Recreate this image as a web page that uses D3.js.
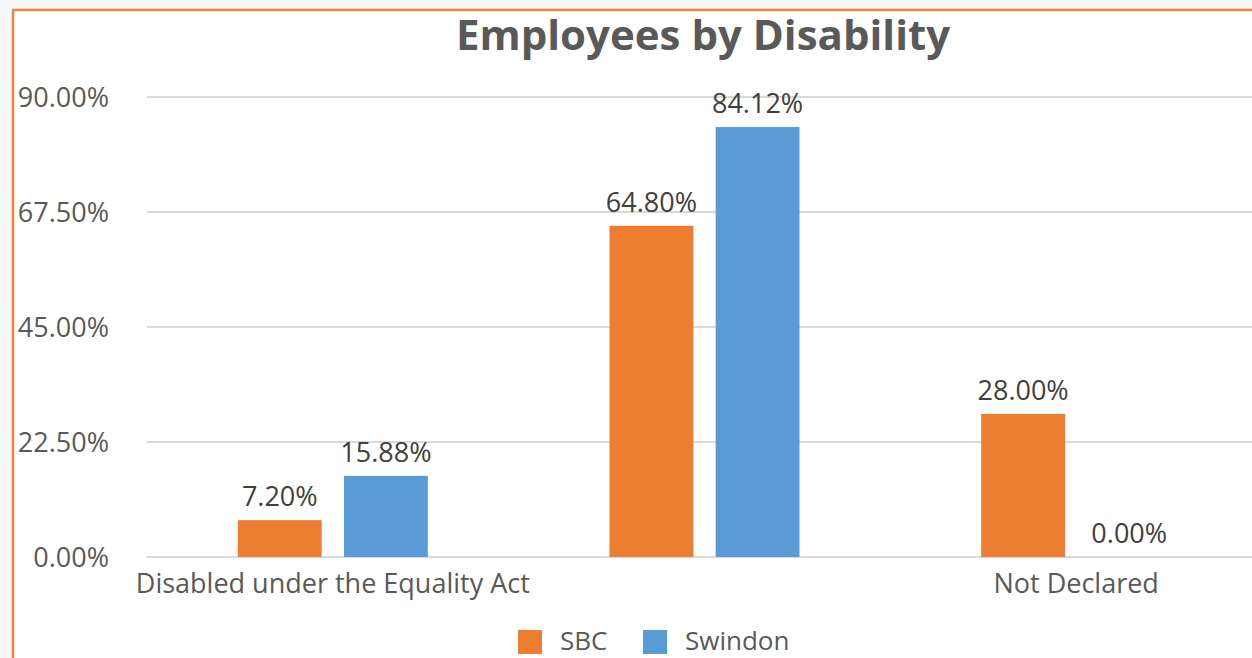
<!DOCTYPE html>
<html>
<head>
<meta charset="utf-8">
<script src="https://cdn.jsdelivr.net/npm/d3@7"></script>
<style>
  body { margin: 0; background: #f7f9fb; }
  text { font-family: "Open Sans", "Noto Sans", sans-serif; }
</style>
</head>
<body>
<div id="chart"></div>
<script>
var categories = ["Disabled under the Equality Act", "", "Not Declared"];
var seriesNames = ["SBC", "Swindon"];
var sbcValues = [7.20, 64.80, 28.00];
var swindonValues = [15.88, 84.12, 0.00];
var yTicks = [0, 22.5, 45, 67.5, 90];

var colors = { SBC: "#ED7D31", Swindon: "#5B9BD5" };

var W = 1252, H = 658;
var margin = { top: 97, right: -10, bottom: 101, left: 147 },
    width = W - margin.left - margin.right,
    height = H - margin.top - margin.bottom;

var svg = d3.select("#chart")
    .append("svg")
    .attr("width", W)
    .attr("height", H);

// white panel with orange frame (only top and left edges are visible)
svg.append("rect")
    .attr("x", 13).attr("y", 10)
    .attr("width", W).attr("height", H)
    .attr("fill", "#ffffff")
    .attr("stroke", "#F28537")
    .attr("stroke-width", 2.5);

var g = svg.append("g")
    .attr("transform", "translate(" + margin.left + "," + margin.top + ")");

var data = categories.map(function (c, i) {
    return { cat: c, values: [
        { key: "SBC", value: sbcValues[i] },
        { key: "Swindon", value: swindonValues[i] }
    ] };
});

var x0 = d3.scaleBand()
    .domain(d3.range(categories.length))
    .range([0, width]);

var x1 = d3.scaleBand()
    .domain(seriesNames)
    .range([x0.bandwidth() / 2 - 95, x0.bandwidth() / 2 + 95])
    .paddingInner(0.21);

var y = d3.scaleLinear()
    .domain([0, 90])
    .range([height, 0]);

// gridlines
g.append("g")
    .selectAll("line")
    .data(yTicks)
    .enter().append("line")
    .attr("x1", 0).attr("x2", width)
    .attr("y1", function (d) { return y(d); })
    .attr("y2", function (d) { return y(d); })
    .attr("stroke", "#d9d9d9")
    .attr("stroke-width", 2);

// y axis labels
var yAxis = g.append("g")
    .attr("transform", "translate(-35,0)")
    .call(d3.axisLeft(y).tickValues(yTicks).tickSize(0)
        .tickFormat(function (d) { return d.toFixed(2) + "%"; }));
yAxis.select(".domain").remove();
yAxis.selectAll("text")
    .attr("fill", "#595959")
    .style("font-size", "27px")
    .attr("dy", "0.36em");

// x axis labels
var xAxis = g.append("g")
    .attr("transform", "translate(0," + height + ")")
    .call(d3.axisBottom(x0).tickSize(0)
        .tickFormat(function (i) { return categories[i]; }));
xAxis.select(".domain").remove();
xAxis.selectAll("text")
    .attr("fill", "#595959")
    .style("font-size", "27px")
    .attr("y", 36)
    .attr("dy", 0);

// bars
var groups = g.selectAll(".cat")
    .data(data)
    .enter().append("g")
    .attr("transform", function (d, i) { return "translate(" + x0(i) + ",0)"; });

groups.selectAll("rect")
    .data(function (d) { return d.values; })
    .enter().append("rect")
    .attr("x", function (d) { return x1(d.key); })
    .attr("y", function (d) { return y(d.value); })
    .attr("width", x1.bandwidth())
    .attr("height", function (d) { return height - y(d.value); })
    .attr("fill", function (d) { return colors[d.key]; });

groups.selectAll(".lbl")
    .data(function (d) { return d.values; })
    .enter().append("text")
    .attr("class", "lbl")
    .attr("x", function (d) { return x1(d.key) + x1.bandwidth() / 2; })
    .attr("y", function (d) { return y(d.value) - 14; })
    .attr("text-anchor", "middle")
    .attr("fill", "#404040")
    .style("font-size", "27px")
    .text(function (d) { return d.value.toFixed(2) + "%"; });

// title
svg.append("text")
    .attr("x", 703)
    .attr("y", 50)
    .attr("text-anchor", "middle")
    .attr("fill", "#595959")
    .attr("font-weight", "bold")
    .style("font-size", "42px")
    .text("Employees by Disability");

// legend
var legend = svg.append("g")
    .attr("transform", "translate(518,630)");
var legendX = [0, 125];
seriesNames.forEach(function (s, i) {
    legend.append("rect")
        .attr("x", legendX[i]).attr("y", 0)
        .attr("width", 24).attr("height", 24)
        .attr("fill", colors[s]);
    legend.append("text")
        .attr("x", legendX[i] + 42).attr("y", 20)
        .attr("fill", "#595959")
        .style("font-size", "26px")
        .text(s);
});
</script>
</body>
</html>
